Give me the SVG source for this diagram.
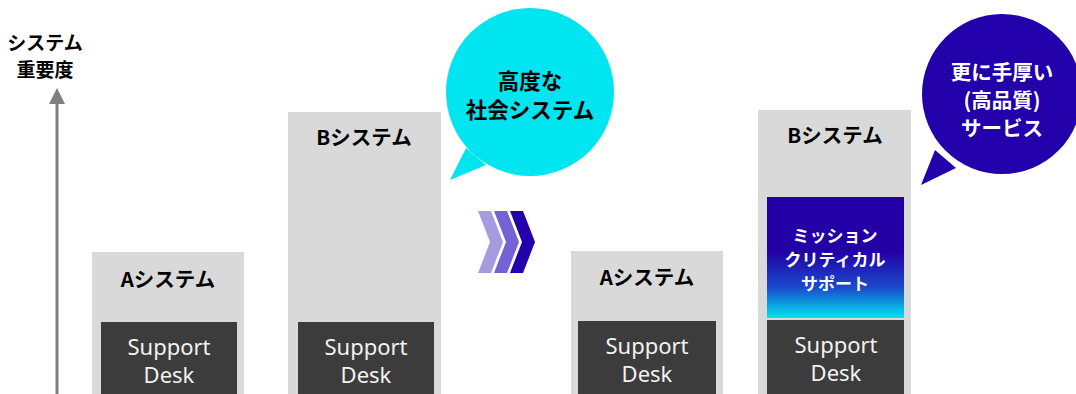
<svg xmlns="http://www.w3.org/2000/svg" width="1076" height="394" viewBox="0 0 1076 394">
<defs>
<style>
.jp{font-family:"Noto Sans CJK JP","Noto Sans",sans-serif;font-weight:bold;text-anchor:middle;fill:#000}
.wt{fill:#fff}
.sd{font-family:"Noto Sans","Open Sans",sans-serif;font-size:22px;fill:#f2f2f2;text-anchor:middle}
.sys{fill:#d9d9d9}
.desk{fill:#3c3c3c}
</style>
<linearGradient id="g" x1="0" y1="0" x2="0" y2="1">
<stop offset="0" stop-color="#2200a6"/>
<stop offset="0.45" stop-color="#2200a6"/>
<stop offset="0.75" stop-color="#1a4bcc"/>
<stop offset="1" stop-color="#00e5f0"/>
</linearGradient>
</defs>

<g id="axis">
<line x1="57" y1="394" x2="57" y2="103" stroke="#7f7f7f" stroke-width="3"/>
<path d="M49,104 L57,88 L65,104 Z" fill="#7f7f7f"/>
<text class="jp" x="45" y="50" font-size="19">システム</text>
<text class="jp" x="45" y="77" font-size="19">重要度</text>
</g>

<g id="systemA1">
<rect class="sys" x="92" y="252" width="152" height="142"/>
<text class="jp" x="168" y="287" font-size="20.5">Aシステム</text>
<rect class="desk" x="101" y="322" width="136" height="72"/>
<text class="sd" x="169" y="355">Support</text>
<text class="sd" x="169" y="383">Desk</text>
</g>

<g id="systemB1">
<rect class="sys" x="288" y="112" width="153" height="282"/>
<text class="jp" x="364" y="145" font-size="20.5">Bシステム</text>
<rect class="desk" x="298" y="322" width="136" height="72"/>
<text class="sd" x="366" y="355">Support</text>
<text class="sd" x="366" y="383">Desk</text>
</g>

<g id="bubble1">
<path d="M450,180 L466,148 L486,165 Z" fill="#00e5ef"/>
<circle cx="530" cy="92" r="84" fill="#00e5ef"/>
<text class="jp" x="530" y="89" font-size="21.5">高度な</text>
<text class="jp" x="530" y="118" font-size="21.5">社会システム</text>
</g>

<g id="chevrons">
<path d="M478,211 L491,211 L503,242 L491,273 L478,273 L490,242 Z" fill="#a59ce0"/>
<path d="M494,211 L507,211 L519,242 L507,273 L494,273 L506,242 Z" fill="#7463d4"/>
<path d="M510,211 L523,211 L535,242 L523,273 L510,273 L522,242 Z" fill="#2200aa"/>
</g>

<g id="systemA2">
<rect class="sys" x="571" y="251" width="152" height="143"/>
<text class="jp" x="647" y="285" font-size="20.5">Aシステム</text>
<rect class="desk" x="578" y="321" width="138" height="73"/>
<text class="sd" x="647" y="354">Support</text>
<text class="sd" x="647" y="382">Desk</text>
</g>

<g id="systemB2">
<rect class="sys" x="758" y="110" width="153" height="284"/>
<text class="jp" x="835" y="143" font-size="20.5">Bシステム</text>
<rect x="767" y="197" width="137" height="121" fill="url(#g)"/>
<text class="jp wt" x="835" y="242" font-size="17">ミッション</text>
<text class="jp wt" x="835" y="266" font-size="17">クリティカル</text>
<text class="jp wt" x="835" y="290" font-size="17">サポート</text>
<rect class="desk" x="767" y="320" width="137" height="74"/>
<text class="sd" x="836" y="353">Support</text>
<text class="sd" x="836" y="381">Desk</text>
</g>

<g id="bubble2">
<path d="M921,185 L935,150 L956,168 Z" fill="#2200aa"/>
<circle cx="1002" cy="94" r="80" fill="#2200aa"/>
<text class="jp wt" x="1002" y="80" font-size="20.5">更に手厚い</text>
<text class="jp wt" x="1002" y="108" font-size="20.5">(高品質)</text>
<text class="jp wt" x="1002" y="136" font-size="20.5">サービス</text>
</g>
</svg>
